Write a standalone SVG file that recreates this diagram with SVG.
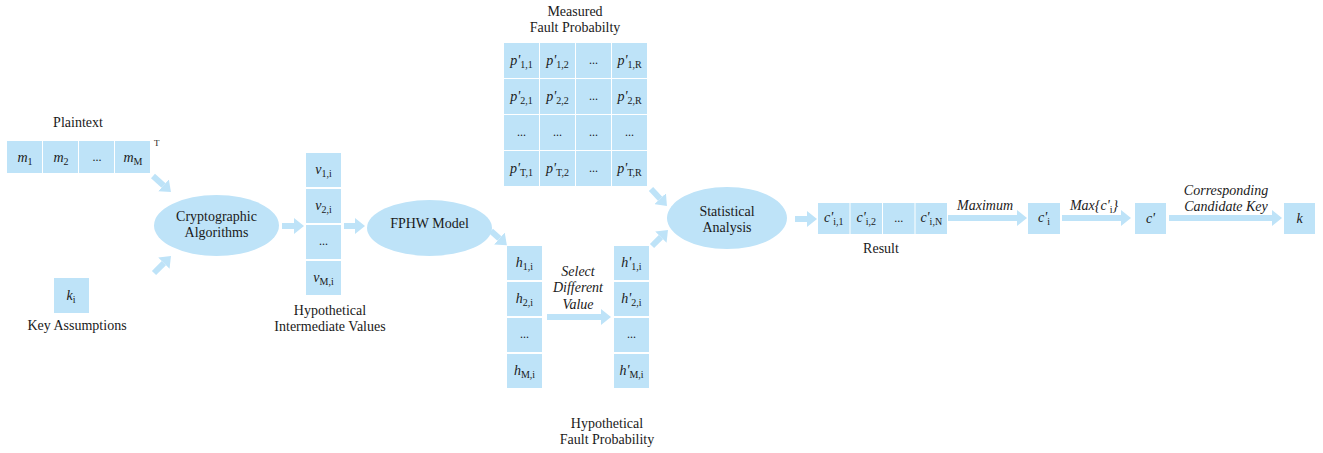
<svg xmlns="http://www.w3.org/2000/svg" width="1323" height="453" viewBox="0 0 1323 453">
<style>
.b{fill:#BEE3F8}
text{font-family:'Liberation Serif','DejaVu Serif',serif;font-size:14px;fill:#1a1a1a}
.m{text-anchor:middle}
.i{font-style:italic}
.s{font-size:10px;font-style:normal}
.d{font-size:12px}
.a{stroke:#BEE3F8;stroke-width:6;fill:none;marker-end:url(#h)}
</style>
<defs>
<marker id="h" viewBox="0 0 10 16" refX="0" refY="8" markerWidth="10" markerHeight="16" markerUnits="userSpaceOnUse" orient="auto">
<path d="M0,0 L10,8 L0,16 z" fill="#BEE3F8"/>
</marker>
</defs>
<rect width="1323" height="453" fill="#fff"/>

<g id="connectors">
<line class="a" x1="153" y1="176" x2="163.5" y2="185.4"/>
<line class="a" x1="154" y1="273" x2="163.9" y2="263.1"/>
<line class="a" x1="282" y1="226" x2="294" y2="226"/>
<line class="a" x1="344" y1="226" x2="355" y2="226"/>
<line class="a" x1="491" y1="231" x2="499.4" y2="238.5"/>
<line class="a" x1="547" y1="317" x2="601" y2="317"/>
<line class="a" x1="652" y1="246" x2="660.9" y2="237.1"/>
<line class="a" x1="651" y1="189" x2="660.1" y2="198.7"/>
<line class="a" x1="795" y1="219" x2="807" y2="219"/>
<line class="a" x1="948" y1="218" x2="1017" y2="218"/>
<line class="a" x1="1062" y1="218" x2="1121" y2="218"/>
<line class="a" x1="1169" y1="218" x2="1272" y2="218"/>
<text class="m i" x="578" y="276">Select</text>
<text class="m i" x="578" y="292">Different</text>
<text class="m i" x="578" y="309">Value</text>
<text class="m i" x="985" y="210">Maximum</text>
<text class="m i" x="1094" y="210">Max{c'<tspan class="s" dy="3">i</tspan><tspan dy="-3">}</tspan></text>
<text class="m i" x="1226" y="195">Corresponding</text>
<text class="m i" x="1226" y="211">Candidate Key</text>
</g>

<g id="plaintext">
<text class="m" x="78" y="127">Plaintext</text>
<rect class="b" x="7" y="141" width="35" height="32"/>
<rect class="b" x="43" y="141" width="35" height="32"/>
<rect class="b" x="79" y="141" width="35" height="32"/>
<rect class="b" x="115" y="141" width="35" height="32"/>
<text class="m" x="25" y="162"><tspan class="i">m</tspan><tspan class="s" dy="3">1</tspan></text>
<text class="m" x="61" y="162"><tspan class="i">m</tspan><tspan class="s" dy="3">2</tspan></text>
<text class="m d" x="97" y="161">...</text>
<text class="m" x="133" y="162"><tspan class="i">m</tspan><tspan class="s" dy="3">M</tspan></text>
<text x="154" y="146" style="font-size:9px">T</text>
</g>

<g id="key">
<rect class="b" x="54" y="278" width="35" height="35"/>
<text class="m" x="71" y="300"><tspan class="i">k</tspan><tspan class="s" dy="3">i</tspan></text>
<text class="m" x="77" y="330">Key Assumptions</text>
</g>

<g id="crypto">
<ellipse class="b" cx="216.5" cy="225.5" rx="62.5" ry="30.5"/>
<text class="m" x="216.5" y="221">Cryptographic</text>
<text class="m" x="216.5" y="237">Algorithms</text>
</g>

<g id="intermediate">
<rect class="b" x="306" y="153" width="35" height="34"/>
<rect class="b" x="306" y="189" width="35" height="34"/>
<rect class="b" x="306" y="225" width="35" height="34"/>
<rect class="b" x="306" y="261" width="35" height="34"/>
<text class="m" x="323.5" y="174"><tspan class="i">v</tspan><tspan class="s" dy="3">1,i</tspan></text>
<text class="m" x="323.5" y="210"><tspan class="i">v</tspan><tspan class="s" dy="3">2,i</tspan></text>
<text class="m d" x="323.5" y="245">...</text>
<text class="m" x="323.5" y="282"><tspan class="i">v</tspan><tspan class="s" dy="3">M,i</tspan></text>
<text class="m" x="330" y="315">Hypothetical</text>
<text class="m" x="330" y="331">Intermediate Values</text>
</g>

<g id="fphw">
<ellipse class="b" cx="429.5" cy="228" rx="62.5" ry="28"/>
<text class="m" x="429.5" y="228">FPHW Model</text>
</g>

<g id="hcol">
<rect class="b" x="507" y="246" width="35" height="34"/>
<rect class="b" x="507" y="282" width="35" height="34"/>
<rect class="b" x="507" y="318" width="35" height="34"/>
<rect class="b" x="507" y="354" width="35" height="34"/>
<text class="m" x="524.5" y="267"><tspan class="i">h</tspan><tspan class="s" dy="3">1,i</tspan></text>
<text class="m" x="524.5" y="303"><tspan class="i">h</tspan><tspan class="s" dy="3">2,i</tspan></text>
<text class="m d" x="524.5" y="338">...</text>
<text class="m" x="524.5" y="375"><tspan class="i">h</tspan><tspan class="s" dy="3">M,i</tspan></text>
</g>

<g id="hpcol">
<rect class="b" x="614" y="246" width="35" height="34"/>
<rect class="b" x="614" y="282" width="35" height="34"/>
<rect class="b" x="614" y="318" width="35" height="34"/>
<rect class="b" x="614" y="354" width="35" height="34"/>
<text class="m" x="631.5" y="267"><tspan class="i">h'</tspan><tspan class="s" dy="3">1,i</tspan></text>
<text class="m" x="631.5" y="303"><tspan class="i">h'</tspan><tspan class="s" dy="3">2,i</tspan></text>
<text class="m d" x="631.5" y="338">...</text>
<text class="m" x="631.5" y="375"><tspan class="i">h'</tspan><tspan class="s" dy="3">M,i</tspan></text>
<text class="m" x="607" y="428">Hypothetical</text>
<text class="m" x="607" y="444">Fault Probability</text>
</g>

<g id="measured">
<text class="m" x="575" y="16">Measured</text>
<text class="m" x="575" y="32">Fault Probabilty</text>
<rect class="b" x="504" y="43" width="35" height="35"/>
<rect class="b" x="540" y="43" width="35" height="35"/>
<rect class="b" x="576" y="43" width="35" height="35"/>
<rect class="b" x="612" y="43" width="35" height="35"/>
<rect class="b" x="504" y="79" width="35" height="35"/>
<rect class="b" x="540" y="79" width="35" height="35"/>
<rect class="b" x="576" y="79" width="35" height="35"/>
<rect class="b" x="612" y="79" width="35" height="35"/>
<rect class="b" x="504" y="115" width="35" height="35"/>
<rect class="b" x="540" y="115" width="35" height="35"/>
<rect class="b" x="576" y="115" width="35" height="35"/>
<rect class="b" x="612" y="115" width="35" height="35"/>
<rect class="b" x="504" y="151" width="35" height="35"/>
<rect class="b" x="540" y="151" width="35" height="35"/>
<rect class="b" x="576" y="151" width="35" height="35"/>
<rect class="b" x="612" y="151" width="35" height="35"/>
<text class="m" x="521.5" y="65"><tspan class="i">p'</tspan><tspan class="s" dy="3">1,1</tspan></text>
<text class="m" x="557.5" y="65"><tspan class="i">p'</tspan><tspan class="s" dy="3">1,2</tspan></text>
<text class="m d" x="593.5" y="64">...</text>
<text class="m" x="629.5" y="65"><tspan class="i">p'</tspan><tspan class="s" dy="3">1,R</tspan></text>
<text class="m" x="521.5" y="101"><tspan class="i">p'</tspan><tspan class="s" dy="3">2,1</tspan></text>
<text class="m" x="557.5" y="101"><tspan class="i">p'</tspan><tspan class="s" dy="3">2,2</tspan></text>
<text class="m d" x="593.5" y="100">...</text>
<text class="m" x="629.5" y="101"><tspan class="i">p'</tspan><tspan class="s" dy="3">2,R</tspan></text>
<text class="m d" x="521.5" y="136">...</text>
<text class="m d" x="557.5" y="136">...</text>
<text class="m d" x="593.5" y="136">...</text>
<text class="m d" x="629.5" y="136">...</text>
<text class="m" x="521.5" y="173"><tspan class="i">p'</tspan><tspan class="s" dy="3">T,1</tspan></text>
<text class="m" x="557.5" y="173"><tspan class="i">p'</tspan><tspan class="s" dy="3">T,2</tspan></text>
<text class="m d" x="593.5" y="172">...</text>
<text class="m" x="629.5" y="173"><tspan class="i">p'</tspan><tspan class="s" dy="3">T,R</tspan></text>
</g>

<g id="statistical">
<ellipse class="b" cx="727" cy="218" rx="60" ry="31"/>
<text class="m" x="727" y="215.5">Statistical</text>
<text class="m" x="727" y="232">Analysis</text>
</g>

<g id="result">
<rect class="b" x="818" y="203" width="31.5" height="31"/>
<rect class="b" x="850.5" y="203" width="31.5" height="31"/>
<rect class="b" x="883" y="203" width="31.5" height="31"/>
<rect class="b" x="915.5" y="203" width="31.5" height="31"/>
<text class="m" x="833.75" y="222"><tspan class="i">c'</tspan><tspan class="s" dy="3">i,1</tspan></text>
<text class="m" x="866.25" y="222"><tspan class="i">c'</tspan><tspan class="s" dy="3">i,2</tspan></text>
<text class="m d" x="898.75" y="222">...</text>
<text class="m" x="931.25" y="222"><tspan class="i">c'</tspan><tspan class="s" dy="3">i,N</tspan></text>
<text class="m" x="881" y="253">Result</text>
</g>

<g id="ci">
<rect class="b" x="1028" y="203" width="32" height="31"/>
<text class="m" x="1044" y="222"><tspan class="i">c'</tspan><tspan class="s" dy="3">i</tspan></text>
</g>

<g id="cprime">
<rect class="b" x="1135" y="203" width="31" height="31"/>
<text class="m i" x="1150.5" y="223">c'</text>
</g>

<g id="k">
<rect class="b" x="1284" y="203" width="31" height="31"/>
<text class="m i" x="1299.5" y="223">k</text>
</g>
</svg>
